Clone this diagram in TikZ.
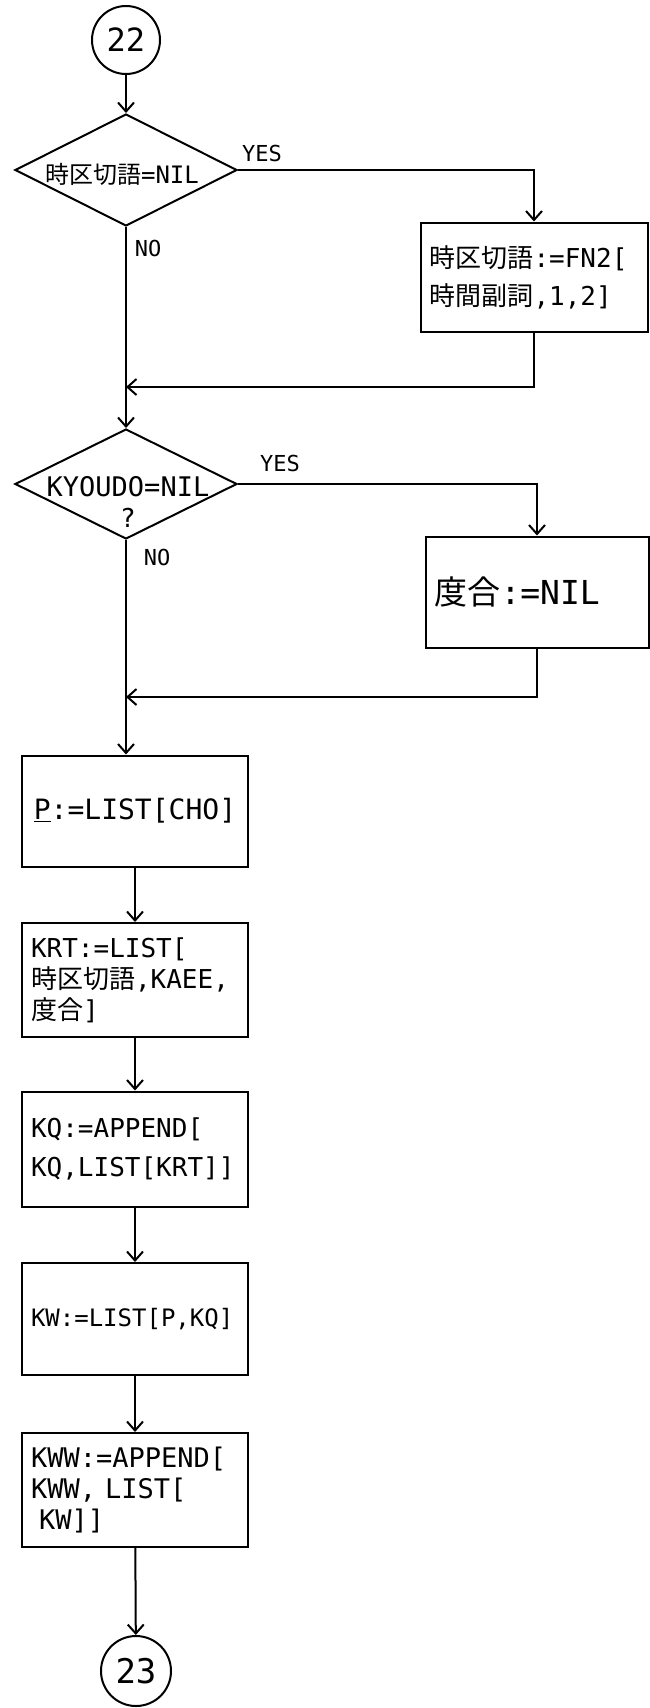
\documentclass[tikz,border=0pt]{standalone}
\usepackage{fontspec}
\setmainfont{DejaVu Sans Mono}
\newfontfamily\jp{Noto Sans CJK JP}
\usetikzlibrary{arrows.meta,shapes.geometric}
\begin{document}
\begin{tikzpicture}[x=1pt,y=-1pt,
  line width=2pt,
  arr/.style={-{Straight Barb[length=9pt,width=16pt,line width=2pt]}},
  conn/.style={circle,draw,minimum size=68pt,inner sep=0pt,font=\fontsize{32}{32}\selectfont},
  dec/.style={diamond,draw,inner sep=0pt,minimum width=222pt,minimum height=112pt},
  proc/.style={rectangle,draw,inner xsep=9pt,inner ysep=0pt,align=left},
  lbl/.style={inner sep=0pt,font=\fontsize{22}{22}\selectfont},
]
\useasboundingbox (0,0) rectangle (650,1708);

% first decision
\node[conn] (c22) at (126,40) {22};
\node[dec] (d1) at (126,170) {};
\node[lbl,font=\fontsize{24}{24}\selectfont] (d1t) at (122,174) {{\jp 時区切語}=NIL};
\node[lbl] (y1) at (262,153) {YES};
\node[lbl] (n1) at (148,248) {NO};
\node[proc,text width=209pt,minimum height=109pt,font=\fontsize{26}{38}\selectfont] (b1) at (534,277)
  {{\jp 時区切語}:=FN2[\\{\jp 時間副詞},1,2]};
\coordinate (m1) at (126,387);

% second decision
\node[dec,minimum height=110pt] (d2) at (126,484) {};
\node[lbl,font=\fontsize{27}{27}\selectfont] (d2t) at (128,487) {KYOUDO=NIL};
\node[lbl,font=\fontsize{26}{26}\selectfont] (d2q) at (128,518) {?};
\node[lbl] (y2) at (280,463) {YES};
\node[lbl] (n2) at (157,557) {NO};
\node[proc,text width=205pt,minimum height=111pt,font=\fontsize{33}{33}\selectfont] (b2) at (537,592)
  {{\jp 度合}:=NIL};
\coordinate (m2) at (126,697);

% processing column
\node[proc,align=center,text width=208pt,minimum height=111pt,font=\fontsize{28}{28}\selectfont] (P) at (135,811)
  {\underline{P}:=LIST[CHO]};
\node[proc,text width=208pt,minimum height=114pt,font=\fontsize{26}{31}\selectfont] (KRT) at (135,980)
  {KRT:=LIST[\\{\jp 時区切語},KAEE,\\{\jp 度合}]};
\node[proc,text width=208pt,minimum height=115pt,font=\fontsize{26}{39}\selectfont] (KQ) at (135,1149)
  {KQ:=APPEND[\\KQ,LIST[KRT]]};
\node[proc,text width=208pt,minimum height=112pt,font=\fontsize{24}{24}\selectfont] (KW) at (135,1319)
  {KW:=LIST[P,KQ]};
\node[proc,text width=208pt,minimum height=114pt,font=\fontsize{27}{31}\selectfont] (KWW) at (135,1490)
  {KWW:=APPEND[\\KWW, LIST[\\\hspace*{8pt}KW]]};
\node[conn,minimum size=70pt,font=\fontsize{34}{34}\selectfont] (c23) at (136,1671) {23};

% connectors
\draw[arr] (c22) -- (d1.north);
\draw[arr] (d1.east) -| (b1.north);
\draw (d1.south) -- (m1);
\draw[arr] (b1.south) |- (m1);
\draw[arr] (m1) -- (d2.north);
\draw[arr] (d2.east) -| (b2.north);
\draw (d2.south) -- (m2);
\draw[arr] (b2.south) |- (m2);
\draw[arr] (m2) -- (m2 |- P.north);
\draw[arr] (P) -- (KRT);
\draw[arr] (KRT) -- (KQ);
\draw[arr] (KQ) -- (KW);
\draw[arr] (KW) -- (KWW);
\draw[arr] (KWW) -- (c23);
\end{tikzpicture}
\end{document}
